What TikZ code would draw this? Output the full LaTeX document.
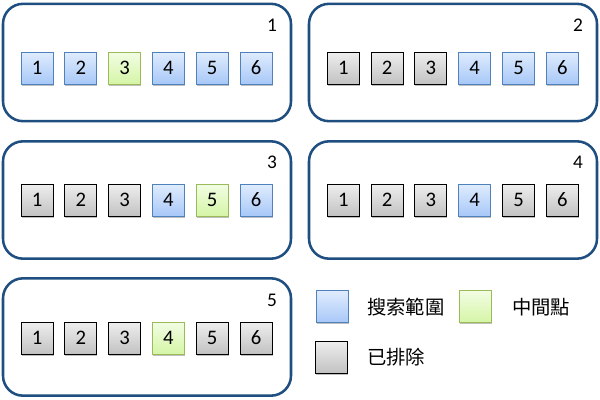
\documentclass[tikz,border=0pt]{standalone}
\usepackage{fontspec}
\setmainfont{Carlito}
\newfontfamily\cjk{Noto Sans CJK TC}
\usetikzlibrary{shadows}
\definecolor{panelc}{HTML}{1F4E80}
\definecolor{bluetop}{HTML}{E0ECFD}
\definecolor{bluebot}{HTML}{A8C8F8}
\definecolor{blueedge}{HTML}{4F81BD}
\definecolor{greentop}{HTML}{F2FDE4}
\definecolor{greenbot}{HTML}{D5F5A6}
\definecolor{greenedge}{HTML}{9BBB59}
\definecolor{graytop}{HTML}{EEEEEE}
\definecolor{graybot}{HTML}{C2C2C2}
\tikzset{
  panel/.style={draw=panelc, line width=1.9pt, rounded corners=15pt, minimum width=216pt, minimum height=88pt, inner sep=0pt},
  sq/.style={minimum width=24pt, minimum height=24pt, inner sep=0pt, font=\fontsize{15.5}{15.5}\selectfont,
     drop shadow={shadow xshift=0.4pt, shadow yshift=-1.2pt, opacity=0.25, fill=black}},
  sb/.style={sq, draw=blueedge, line width=0.75pt, top color=bluetop, bottom color=bluebot},
  sg/.style={sq, draw=greenedge, line width=0.75pt, top color=greentop, bottom color=greenbot},
  sx/.style={sq, draw=black, line width=0.75pt, top color=graytop, bottom color=graybot},
  plabel/.style={font=\fontsize{14.5}{14.5}\selectfont, inner sep=0pt},
  legtext/.style={font=\cjk\fontsize{14.5}{14.5}\selectfont, inner sep=0pt, anchor=west}
}
\begin{document}
\begin{tikzpicture}[x=0.75pt,y=-0.75pt]
\useasboundingbox (0,0) rectangle (600,400);
% panels
\node[panel] (p1) at (147,62.5) {};
\node[panel] (p2) at (453,62.5) {};
\node[panel] (p3) at (147,200) {};
\node[panel] (p4) at (453,200) {};
\node[panel] (p5) at (147,337) {};
% panel labels
\node[plabel] (l1) at (272,25) {1};
\node[plabel] (l2) at (578,25) {2};
\node[plabel] (l3) at (272,162) {3};
\node[plabel] (l4) at (578,162) {4};
\node[plabel] (l5) at (272,300) {5};
% panel 1
\node[sb] (a1) at (37,68) {1};
\node[sb] (a2) at (80.8,68) {2};
\node[sg] (a3) at (124.6,68) {3};
\node[sb] (a4) at (168.4,68) {4};
\node[sb] (a5) at (212.2,68) {5};
\node[sb] (a6) at (256,68) {6};
% panel 2
\node[sx] (b1) at (343.3,68) {1};
\node[sx] (b2) at (387.1,68) {2};
\node[sx] (b3) at (430.9,68) {3};
\node[sb] (b4) at (474.7,68) {4};
\node[sb] (b5) at (518.5,68) {5};
\node[sb] (b6) at (562.3,68) {6};
% panel 3
\node[sx] (c1) at (37,200) {1};
\node[sx] (c2) at (80.8,200) {2};
\node[sx] (c3) at (124.6,200) {3};
\node[sb] (c4) at (168.4,200) {4};
\node[sg] (c5) at (212.2,200) {5};
\node[sb] (c6) at (256,200) {6};
% panel 4
\node[sx] (d1) at (343.3,200) {1};
\node[sx] (d2) at (387.1,200) {2};
\node[sx] (d3) at (430.9,200) {3};
\node[sb] (d4) at (474.7,200) {4};
\node[sx] (d5) at (518.5,200) {5};
\node[sx] (d6) at (562.3,200) {6};
% panel 5
\node[sx] (e1) at (37,338) {1};
\node[sx] (e2) at (80.8,338) {2};
\node[sx] (e3) at (124.6,338) {3};
\node[sg] (e4) at (168.4,338) {4};
\node[sx] (e5) at (212.2,338) {5};
\node[sx] (e6) at (256,338) {6};
% legend
\node[sb] (k1) at (332.5,306.5) {};
\node[legtext] (t1) at (367,307) {搜索範圍};
\node[sg] (k2) at (475,306.5) {};
\node[legtext] (t2) at (512,307) {中間點};
\node[sx] (k3) at (331,357) {};
\node[legtext] (t3) at (367,357) {已排除};
\end{tikzpicture}
\end{document}
